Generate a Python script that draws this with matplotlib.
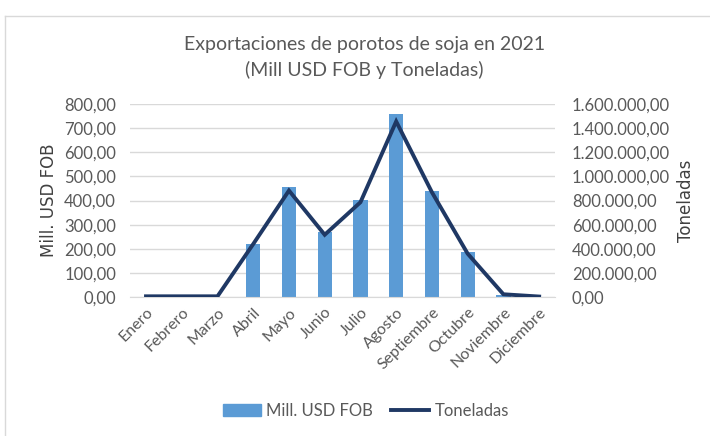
import matplotlib
matplotlib.use("Agg")
import matplotlib.pyplot as plt
from matplotlib.ticker import FuncFormatter
from matplotlib.lines import Line2D

months = ["Enero", "Febrero", "Marzo", "Abril", "Mayo", "Junio", "Julio",
          "Agosto", "Septiembre", "Octubre", "Noviembre", "Diciembre"]
usd_fob = [0, 0, 0, 218, 455, 268, 403, 759, 441, 186, 10, 0]
toneladas = [5000, 5000, 5000, 439000, 883000, 516000, 786000, 1457000,
             869000, 359000, 22000, 3000]

plt.rcParams['font.family'] = ['Lato', 'DejaVu Sans']
txt = '#595959'

fig = plt.figure(figsize=(7.10, 4.36), dpi=100)
ax = fig.add_axes([0.183, 0.319, 0.599, 0.442])
ax2 = ax.twinx()

x = list(range(len(months)))
ax.bar(x, usd_fob, width=0.4, color='#5B9BD5', zorder=2)
ax2.plot(x, toneladas, color='#1F3864', lw=2.8, zorder=3, solid_joinstyle='miter')

ax.set_ylim(0, 800)
ax2.set_ylim(0, 1600000)
ax.set_yticks(range(0, 801, 100))
ax2.set_yticks(range(0, 1600001, 200000))
ax.set_xlim(-0.45, 11.45)

def fmt_es(v, pos=None):
    s = f"{v:,.2f}"
    return s.replace(",", "X").replace(".", ",").replace("X", ".")

ax.yaxis.set_major_formatter(FuncFormatter(fmt_es))
ax2.yaxis.set_major_formatter(FuncFormatter(fmt_es))

ax.grid(axis='y', color='#D9D9D9', lw=1, zorder=0)
ax.set_axisbelow(True)
for a in (ax, ax2):
    for s in a.spines.values():
        s.set_visible(False)
    a.tick_params(length=0, colors=txt, labelsize=12)
ax.spines['bottom'].set_visible(True)
ax.spines['bottom'].set_color('#D9D9D9')

ax.set_xticks(x)
ax.set_xticklabels(months, rotation=45, ha='right', rotation_mode='anchor',
                   fontsize=11.5)
ax.tick_params(axis='x', pad=6)
ax.tick_params(axis='y', pad=10)
ax2.tick_params(axis='y', pad=12)

ax.set_ylabel("Mill. USD FOB", color='#404040', fontsize=12, labelpad=4.5,
              family=['DejaVu Sans'])
ax2.set_ylabel("Toneladas", color='#404040', fontsize=12, labelpad=5,
               family=['DejaVu Sans'])

fig.text(0.513, 0.897, "Exportaciones de porotos de soja en 2021", ha='center',
         va='center', color=txt, fontsize=14)
fig.text(0.513, 0.840, "(Mill USD FOB y Toneladas)", ha='center', va='center',
         color=txt, fontsize=14)

handles = [plt.Rectangle((0, 0), 1, 1, color='#5B9BD5'),
           Line2D([], [], color='#1F3864', lw=2.8)]
leg = fig.legend(handles, ["Mill. USD FOB", "Toneladas"], loc='center',
                 bbox_to_anchor=(0.515, 0.057), ncol=2, frameon=False,
                 fontsize=12, handlelength=2.3, columnspacing=1.1,
                 handletextpad=0.3)
for t in leg.get_texts():
    t.set_color(txt)

# chart border (top and left)
fig.add_artist(Line2D([5/710, 1], [1-16/436, 1-16/436], color='#D9D9D9', lw=1,
                      transform=fig.transFigure))
fig.add_artist(Line2D([5/710, 5/710], [0, 1-16/436], color='#D9D9D9', lw=1,
                      transform=fig.transFigure))

fig.savefig("out.png", dpi=100)
